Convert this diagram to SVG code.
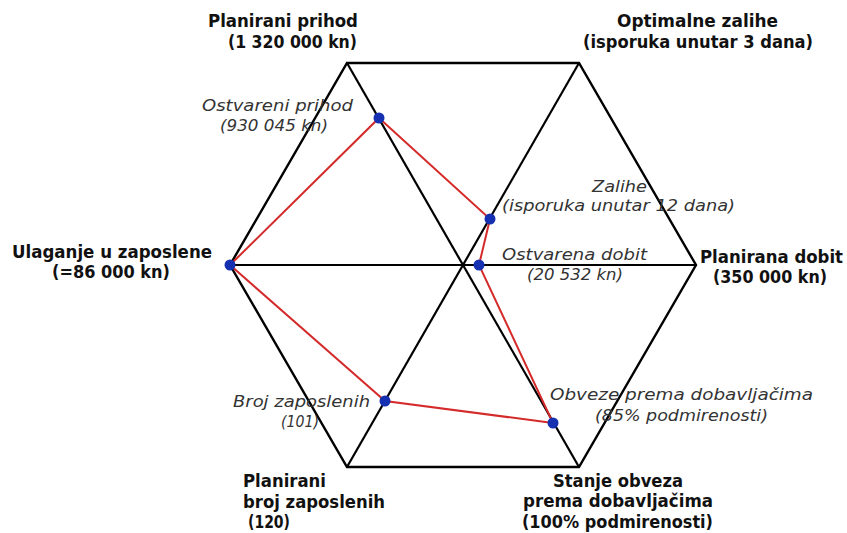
<svg xmlns="http://www.w3.org/2000/svg" width="847" height="533" viewBox="0 0 847 533">
<style>
.frame{fill:none;stroke:#000;stroke-width:2.4;stroke-linejoin:miter}
.axis{stroke:#000;stroke-width:2.2}
.data{fill:none;stroke:#d42a2a;stroke-width:2}
.dot{fill:#1530b0}
.b{font-family:"DejaVu Sans","Liberation Sans",sans-serif;font-weight:bold;font-size:17px;fill:#111}
.i{font-family:"DejaVu Sans","Liberation Sans",sans-serif;font-style:italic;font-size:16.5px;fill:#333}
</style>
<rect width="847" height="533" fill="#fff"/>
<g id="frame">
<polygon class="frame" points="347,63 579,63 696,265 579,467 347,467 230,265"/>
</g>
<g id="connectors">
<line class="axis" x1="347" y1="63" x2="579" y2="467"/>
<line class="axis" x1="579" y1="63" x2="347" y2="467"/>
<line class="axis" x1="230" y1="265" x2="696" y2="265"/>
</g>
<g id="actual">
<polygon class="data" points="379,118 490,219 479,265 553,423 385,401 230,265"/>
</g>
<g id="node-prihod">
<text class="b" x="208" y="27" textLength="150" lengthAdjust="spacingAndGlyphs">Planirani prihod</text>
<text class="b" x="228" y="48" textLength="129" lengthAdjust="spacingAndGlyphs">(1 320 000 kn)</text>
<circle class="dot" cx="379" cy="118" r="5.5"/>
<text class="i" x="202" y="111" textLength="151" lengthAdjust="spacingAndGlyphs">Ostvareni prihod</text>
<text class="i" x="220" y="131" textLength="108" lengthAdjust="spacingAndGlyphs">(930 045 kn)</text>
</g>
<g id="node-zalihe">
<text class="b" x="617" y="27" textLength="161" lengthAdjust="spacingAndGlyphs">Optimalne zalihe</text>
<text class="b" x="583" y="48" textLength="230" lengthAdjust="spacingAndGlyphs">(isporuka unutar 3 dana)</text>
<circle class="dot" cx="490" cy="219" r="5.5"/>
<text class="i" x="592" y="192" textLength="55" lengthAdjust="spacingAndGlyphs">Zalihe</text>
<text class="i" x="502" y="211" textLength="233" lengthAdjust="spacingAndGlyphs">(isporuka unutar 12 dana)</text>
</g>
<g id="node-dobit">
<text class="b" x="700" y="263" textLength="143" lengthAdjust="spacingAndGlyphs">Planirana dobit</text>
<text class="b" x="713" y="283" textLength="114" lengthAdjust="spacingAndGlyphs">(350 000 kn)</text>
<circle class="dot" cx="479" cy="265" r="5.5"/>
<text class="i" x="502" y="260" textLength="145" lengthAdjust="spacingAndGlyphs">Ostvarena dobit</text>
<text class="i" x="527" y="280" textLength="96" lengthAdjust="spacingAndGlyphs">(20 532 kn)</text>
</g>
<g id="node-obveze">
<text class="b" x="553" y="487" textLength="130" lengthAdjust="spacingAndGlyphs">Stanje obveza</text>
<text class="b" x="523" y="507" textLength="190" lengthAdjust="spacingAndGlyphs">prema dobavljačima</text>
<text class="b" x="522" y="528" textLength="191" lengthAdjust="spacingAndGlyphs">(100% podmirenosti)</text>
<circle class="dot" cx="553" cy="423" r="5.5"/>
<text class="i" x="550" y="400" textLength="263" lengthAdjust="spacingAndGlyphs">Obveze prema dobavljačima</text>
<text class="i" x="595" y="421" textLength="173" lengthAdjust="spacingAndGlyphs">(85% podmirenosti)</text>
</g>
<g id="node-zaposleni">
<text class="b" x="243" y="487" textLength="83" lengthAdjust="spacingAndGlyphs">Planirani</text>
<text class="b" x="243" y="508" textLength="142" lengthAdjust="spacingAndGlyphs">broj zaposlenih</text>
<text class="b" x="248" y="528" textLength="42" lengthAdjust="spacingAndGlyphs">(120)</text>
<circle class="dot" cx="385" cy="401" r="5.5"/>
<text class="i" x="233" y="407" textLength="137" lengthAdjust="spacingAndGlyphs">Broj zaposlenih</text>
<text class="i" x="281" y="427" textLength="38" lengthAdjust="spacingAndGlyphs">(101)</text>
</g>
<g id="node-ulaganje">
<text class="b" x="12" y="258" textLength="200" lengthAdjust="spacingAndGlyphs">Ulaganje u zaposlene</text>
<text class="b" x="52" y="278" textLength="118" lengthAdjust="spacingAndGlyphs">(=86 000 kn)</text>
<circle class="dot" cx="230" cy="265" r="5.5"/>
</g>
</svg>
